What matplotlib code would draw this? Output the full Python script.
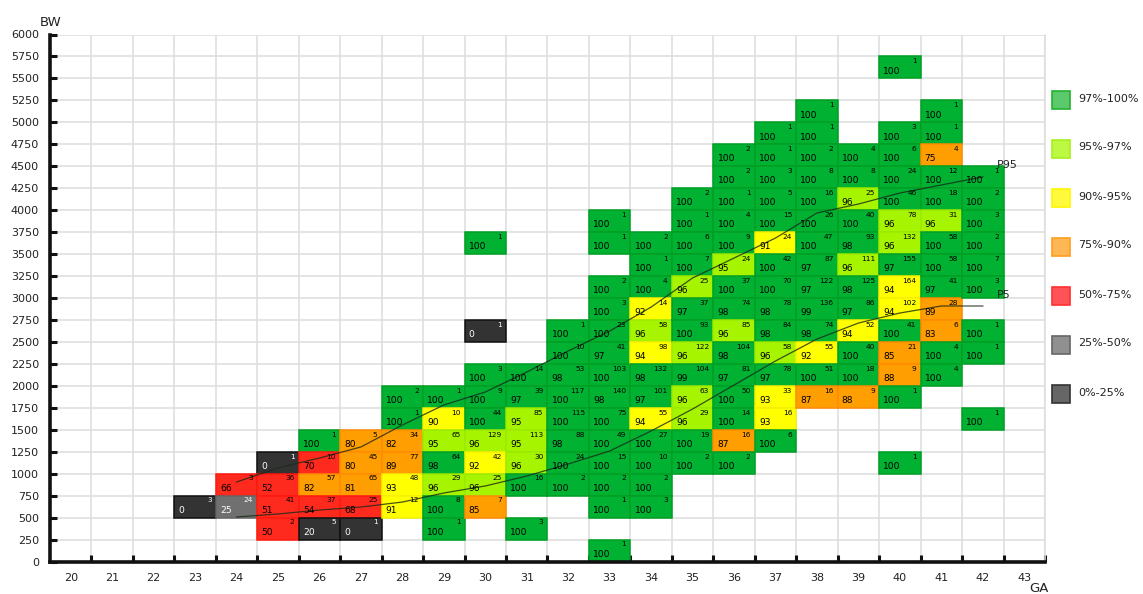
import matplotlib
matplotlib.use("Agg")
import matplotlib.pyplot as plt
from matplotlib.patches import Rectangle

W, H = 1143, 594

# one entry per cell, grouped by gestational age column
ga = [23] * 1 + [24] * 2 + [25] * 4 + [26] * 5 + [27] * 5 + [28] * 6 + [29] * 7 \
    + [30] * 9 + [31] * 7 + [32] * 8 + [33] * 14 + [34] * 13 + [35] * 13 \
    + [36] * 15 + [37] * 15 + [38] * 14 + [39] * 12 + [40] * 15 + [41] * 13 + [42] * 9
bw_bin = [500,
    750, 500,
    1000, 750, 500, 250,
    1250, 1000, 750, 500, 250,
    1250, 1000, 750, 500, 250,
    1750, 1500, 1250, 1000, 750, 500,
    1750, 1500, 1250, 1000, 750, 500, 250,
    3500, 2500, 2000, 1750, 1500, 1250, 1000, 750, 500,
    2000, 1750, 1500, 1250, 1000, 750, 250,
    2500, 2250, 2000, 1750, 1500, 1250, 1000, 750,
    3750, 3500, 3000, 2750, 2500, 2250, 2000, 1750, 1500, 1250, 1000, 750, 500, 0,
    3500, 3250, 3000, 2750, 2500, 2250, 2000, 1750, 1500, 1250, 1000, 750, 500,
    4000, 3750, 3500, 3250, 3000, 2750, 2500, 2250, 2000, 1750, 1500, 1250, 1000,
    4500, 4250, 4000, 3750, 3500, 3250, 3000, 2750, 2500, 2250, 2000, 1750, 1500, 1250, 1000,
    4750, 4500, 4250, 4000, 3750, 3500, 3250, 3000, 2750, 2500, 2250, 2000, 1750, 1500, 1250,
    5000, 4750, 4500, 4250, 4000, 3750, 3500, 3250, 3000, 2750, 2500, 2250, 2000, 1750,
    4500, 4250, 4000, 3750, 3500, 3250, 3000, 2750, 2500, 2250, 2000, 1750,
    5500, 4750, 4500, 4250, 4000, 3750, 3500, 3250, 3000, 2750, 2500, 2250, 2000, 1750, 1000,
    5000, 4750, 4500, 4250, 4000, 3750, 3500, 3250, 3000, 2750, 2500, 2250, 2000,
    4250, 4000, 3750, 3500, 3250, 3000, 2500, 2250, 1500]
pct = [0,
    66, 25,
    0, 52, 51, 50,
    100, 70, 82, 54, 20,
    80, 80, 81, 68, 0,
    100, 100, 82, 89, 93, 91,
    100, 90, 95, 98, 96, 100, 100,
    100, 0, 100, 100, 100, 96, 92, 96, 85,
    100, 97, 95, 95, 96, 100, 100,
    100, 100, 98, 100, 100, 98, 100, 100,
    100, 100, 100, 100, 100, 97, 100, 98, 100, 100, 100, 100, 100, 100,
    100, 100, 100, 92, 96, 94, 98, 97, 94, 100, 100, 100, 100,
    100, 100, 100, 100, 96, 97, 100, 96, 99, 96, 96, 100, 100,
    100, 100, 100, 100, 100, 95, 100, 98, 96, 98, 97, 100, 100, 87, 100,
    100, 100, 100, 100, 100, 91, 100, 100, 98, 98, 96, 97, 93, 93, 100,
    100, 100, 100, 100, 100, 100, 100, 97, 97, 99, 98, 92, 100, 87,
    100, 100, 96, 100, 98, 96, 98, 97, 94, 100, 100, 88,
    100, 100, 100, 100, 100, 96, 96, 97, 94, 94, 100, 85, 88, 100, 100,
    100, 100, 75, 100, 100, 96, 100, 100, 97, 89, 83, 100, 100,
    100, 100, 100, 100, 100, 100, 100, 100, 100]
n_cases = [3,
    3, 24,
    1, 36, 41, 2,
    1, 10, 57, 37, 5,
    5, 45, 65, 25, 1,
    2, 1, 34, 77, 48, 12,
    1, 10, 65, 64, 29, 8, 1,
    1, 1, 3, 9, 44, 129, 42, 25, 7,
    14, 39, 85, 113, 30, 16, 3,
    1, 10, 53, 117, 115, 88, 24, 2,
    1, 1, 2, 3, 23, 41, 103, 140, 75, 49, 15, 2, 1, 1,
    2, 1, 4, 14, 58, 98, 132, 101, 55, 27, 10, 2, 3,
    2, 1, 6, 7, 25, 37, 93, 122, 104, 63, 29, 19, 2,
    2, 2, 1, 4, 9, 24, 37, 74, 85, 104, 81, 50, 14, 16, 2,
    1, 1, 3, 5, 15, 24, 42, 70, 78, 84, 58, 78, 33, 16, 6,
    1, 1, 2, 8, 16, 26, 47, 87, 122, 136, 74, 55, 51, 16,
    4, 8, 25, 40, 93, 111, 125, 86, 52, 40, 18, 9,
    1, 3, 6, 24, 46, 78, 132, 155, 164, 102, 41, 21, 9, 1, 1,
    1, 1, 4, 12, 18, 31, 58, 58, 41, 28, 6, 4, 4,
    1, 2, 3, 2, 7, 3, 1, 1, 1]

curve_ga = list(range(24, 43))
p5 = [507, 541, 586, 620, 677, 780, 860, 973, 1110, 1258, 1486, 1736, 2009, 2283,
      2533, 2715, 2829, 2909, 2909]
p95 = [905, 1065, 1178, 1304, 1554, 1782, 1930, 2157, 2397, 2624, 2897, 3228, 3455,
       3683, 3968, 4070, 4195, 4287, 4378]

legend_labels = ["97%-100%", "95%-97%", "90%-95%", "75%-90%", "50%-75%", "25%-50%", "0%-25%"]
legend_fill = ["#5CC96E", "#BDF842", "#FFFB3C", "#FFB655", "#FF5358", "#909090", "#666666"]
legend_edge = ["#22B030", "#A6F020", "#FFF500", "#FF9E1E", "#FF3030", "#666666", "#333333"]


def cell_style(p):
    # fill, edge, text colour for a percentage
    if p >= 97:
        return "#00B132", "#00A024", "black"
    if p >= 95:
        return "#A6F400", "#9CEA00", "black"
    if p >= 90:
        return "#FFFF00", "#F6F000", "black"
    if p >= 75:
        return "#FF9E00", "#FF8C00", "black"
    if p >= 50:
        return "#FF2A1E", "#FF1A10", "black"
    if p >= 25:
        return "#707070", "#666666", "white"
    return "#333333", "#111111", "white"


def px(x, y):
    return x / W, 1 - y / H


fig = plt.figure(figsize=(W / 100, H / 100), dpi=100)
ax = fig.add_axes([50 / W, 1 - 561.5 / H, 995 / W, 527 / H])
ax.set_xlim(19.5, 43.5)
ax.set_ylim(0, 6000)

ax.set_xticks([g + 0.5 for g in range(20, 44)])
ax.set_xticklabels([])
ax.set_xticks(range(20, 44), minor=True)
ax.set_xticklabels([str(g) for g in range(20, 44)], minor=True)
ax.set_yticks(range(0, 6001, 250))
ax.grid(True, color="#DDDDDD", lw=1.1)
ax.set_axisbelow(True)
ax.tick_params(axis="x", which="major", direction="in", length=5, width=2.2, color="#111111")
ax.tick_params(axis="x", which="minor", length=0, pad=8, labelsize=8, labelcolor="#222222")
ax.tick_params(axis="y", direction="in", length=5, width=2.2, color="#111111",
               pad=8, labelsize=8, labelcolor="#222222")
ax.spines["top"].set_visible(False)
ax.spines["right"].set_color("#DDDDDD")
ax.spines["right"].set_linewidth(1.1)
ax.spines["left"].set_linewidth(2.6)
ax.spines["bottom"].set_linewidth(2.6)
ax.spines["left"].set_color("#111111")
ax.spines["bottom"].set_color("#111111")

for g, b, p, n in zip(ga, bw_bin, pct, n_cases):
    fill, edge, tc = cell_style(p)
    ax.bar(g, 250, bottom=b, width=1, color=fill, edgecolor=edge, linewidth=1.1, zorder=2)
    ax.text(g - 0.4, b + 83, str(p), ha="left", va="center", fontsize=6.6, color=tc, zorder=4)
    ax.text(g + 0.4, b + 195, str(n), ha="right", va="center", fontsize=5.3, color=tc, zorder=4)

ax.plot(curve_ga, p5, color="#1A2A1A", lw=0.9, alpha=0.8, zorder=3)
ax.plot(curve_ga, p95, color="#1A2A1A", lw=0.9, alpha=0.8, zorder=3)

fig.text(*px(997, 165), "P95", fontsize=8, color="#222222", va="center")
fig.text(*px(997, 295), "P5", fontsize=8, color="#222222", va="center")
fig.text(*px(40, 22), "BW", fontsize=9.5, color="#222222", va="center")
fig.text(*px(1029, 588), "GA", fontsize=9.5, color="#222222", va="center")

for i, label in enumerate(legend_labels):
    top = 90 + 49 * i
    x0, y0 = px(1052, top + 19)
    fig.add_artist(Rectangle((x0, y0), 18 / W, 18 / H, transform=fig.transFigure,
                             facecolor=legend_fill[i], edgecolor=legend_edge[i], linewidth=1.2))
    fig.text(*px(1078, top + 8.5), label, fontsize=8, color="#222222", va="center")

fig.savefig("out.png", dpi=100)
